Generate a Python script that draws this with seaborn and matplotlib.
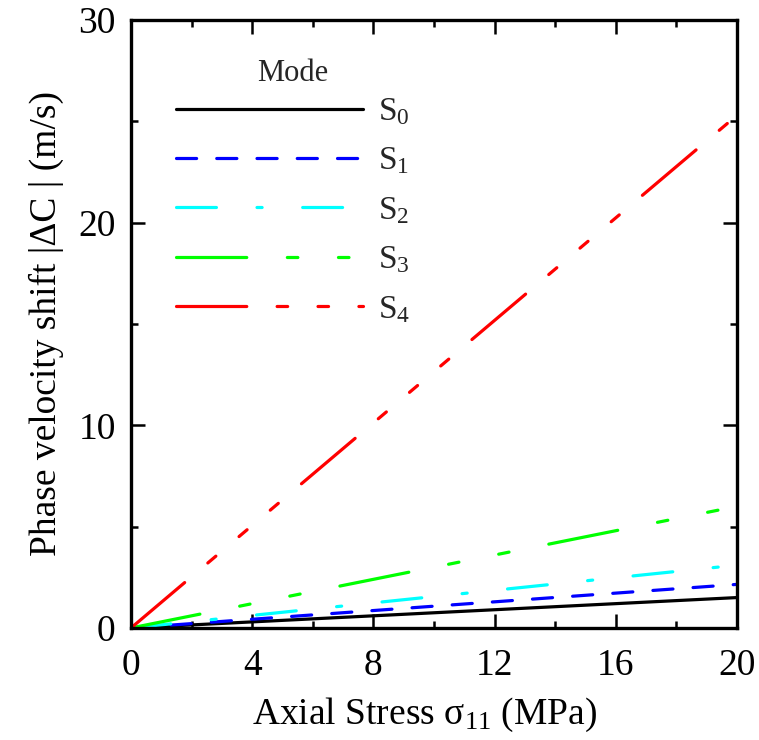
import numpy as np
import pandas as pd
import matplotlib
matplotlib.use("Agg")
import matplotlib.pyplot as plt
import seaborn as sns
from matplotlib.ticker import MultipleLocator

# ---- data ----
stress = [0, 20]
modes = ["S$_0$", "S$_1$", "S$_2$", "S$_3$", "S$_4$"]
s0 = [0, 1.5]
s1 = [0, 2.15]
s2 = [0, 3.1]
s3 = [0, 6.0]
s4 = [0, 25.3]
colors = ["#000000", "#0000ff", "#00ffff", "#00ff00", "#ff0000"]

sns.set_theme(style="white")
plt.rcParams["font.family"] = ["Liberation Serif", "DejaVu Serif"]
plt.rcParams["mathtext.fontset"] = "custom"
plt.rcParams["mathtext.rm"] = "Liberation Serif"
plt.rcParams["mathtext.it"] = "Liberation Serif:italic"
plt.rcParams["mathtext.default"] = "rm"

rows = []
for name, vals in zip(modes, [s0, s1, s2, s3, s4]):
    for x, y in zip(stress, vals):
        rows.append({"Stress": x, "Shift": y, "Mode": name})
df = pd.DataFrame(rows)

dashes = {
    modes[0]: "",
    modes[1]: (6.3, 6.3),
    modes[2]: (12.5, 12.7, 1.6, 12.7),
    modes[3]: (22.0, 12.7, 3.3, 12.7, 3.3, 12.7),
    modes[4]: (22.0, 9.5, 3.3, 9.5, 3.3, 9.5, 3.3, 9.5),
}

fig = plt.figure(figsize=(7.59, 7.40), dpi=100)
ax = fig.add_axes([0.1726, 0.1514, 0.7985, 0.8216])

sns.lineplot(data=df, x="Stress", y="Shift", hue="Mode", style="Mode",
             palette=dict(zip(modes, colors)), dashes=dashes,
             linewidth=2.3, ax=ax, legend=True)
for ln in ax.get_lines():
    ln.set_dash_capstyle("round")
    ln.set_solid_capstyle("round")

ax.set_xlim(0, 20)
ax.set_ylim(0, 30)
ax.xaxis.set_major_locator(MultipleLocator(4))
ax.xaxis.set_minor_locator(MultipleLocator(2))
ax.yaxis.set_major_locator(MultipleLocator(10))
ax.yaxis.set_minor_locator(MultipleLocator(5))
ax.tick_params(which="both", direction="in", top=True, right=True,
               bottom=True, left=True, labelsize=27, width=1.8, color="black",
               labelcolor="black")
ax.tick_params(which="major", length=10)
ax.tick_params(axis="x", which="major", pad=15)
ax.tick_params(axis="y", which="major", pad=11)
ax.tick_params(which="minor", length=5)
for sp in ax.spines.values():
    sp.set_linewidth(2.4)
    sp.set_color("black")

ax.set_xlabel("Axial Stress σ$_{11}$ (MPa)", fontsize=27, color="black")
ax.xaxis.set_label_coords(0.484, -0.158, transform=ax.transAxes)
ax.xaxis.label.set_va("baseline")
ax.set_ylabel("Phase velocity shift |ΔC | (m/s)", fontsize=27, color="black", labelpad=10)

sns.move_legend(ax, "upper left", bbox_to_anchor=(0.025, 0.985), frameon=False,
                title="Mode", fontsize=24, title_fontsize=22, handlelength=5.6,
                labelspacing=0.56, handletextpad=0.45)
leg = ax.get_legend()
leg._legend_box.sep = 6
for h in leg.legend_handles:
    h.set_linewidth(2.3)
    h.set_dash_capstyle("round")
    h.set_solid_capstyle("round")

fig.savefig("out.png", dpi=100)
